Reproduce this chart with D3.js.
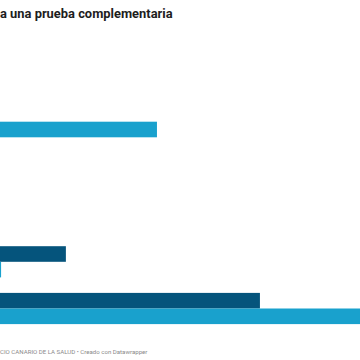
<!DOCTYPE html>
<html><head><meta charset="utf-8">
<script src="https://cdn.jsdelivr.net/npm/d3@7"></script>
<style>body{margin:0;background:#fff}svg{display:block}</style>
</head><body>
<svg id="c" width="360" height="360"></svg>
<script>
const titleText = "a una prueba complementaria";
const footerText = "CIO CANARIO DE LA SALUD • Creado con Datawrapper";
const groups = ["g0","g1","g2","g3","g4","g5"];
const seriesNames = ["s1","s2"];
const series1 = [0, 0, 0, 0, 18.3, 72.2];
const series2 = [0, 43.6, 0, 0, 0.3, 100];
const colors = ["#05547c", "#19a1cd"];

const svg = d3.select("#c");
svg.append("text").attr("x",0).attr("y",18)
  .attr("font-family","Roboto").attr("font-weight",700).attr("font-size",12.9)
  .attr("fill","#1d1d1d").text(titleText);

const x = d3.scaleLinear().domain([0,100]).range([0,360]);
const y = d3.scaleBand().domain(groups).range([59.4, 339.6]).paddingInner(0).paddingOuter(0);
const inner = d3.scaleBand().domain(seriesNames).range([0, 31.2]);

const data = groups.map((g,i)=>({g, vals:[series1[i], series2[i]]}));
const gs = svg.selectAll("g.grp").data(data).enter().append("g")
  .attr("transform", d=>`translate(0,${y(d.g)})`);
gs.selectAll("rect").data(d=>d.vals.map((v,j)=>({v, s:seriesNames[j], j})))
  .enter().append("rect")
  .attr("x", x(0)).attr("y", d=>inner(d.s))
  .attr("width", d=>x(d.v)-x(0)).attr("height", inner.bandwidth())
  .attr("fill", d=>colors[d.j]);

svg.append("text").attr("x",0).attr("y",353.5)
  .attr("font-family","Roboto").attr("font-size",6.1)
  .attr("fill","#8a8a8a").text(footerText);
</script>
</body></html>
